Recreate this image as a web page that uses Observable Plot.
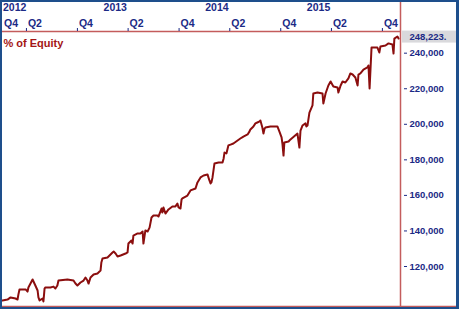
<!DOCTYPE html>
<html><head><meta charset="utf-8">
<script src="https://cdn.jsdelivr.net/npm/d3@7"></script>
<script src="https://cdn.jsdelivr.net/npm/@observablehq/plot@0.6"></script>
<style>
html,body{margin:0;padding:0;background:#fff;}
#chart{width:454px;height:305px;border-style:solid;border-color:#1e4f8c;border-width:2px 3px 2px 2px;background:#fff;overflow:hidden;}
#chart svg{display:block;}
</style></head><body><div id="chart"></div><script>
// ---- data ----
const baseDate = "2012-01-01";
const dayOffsets = [5,23,34,52,59,62,66,88,95,98,
113,123,131,134,138,149,152,156,159,177,
188,195,202,206,238,260,267,274,285,296,
303,310,314,321,332,346,357,360,364,382,
400,404,411,418,429,447,454,457,468,472,
475,490,500,508,511,518,526,533,540,547,
561,565,576,579,583,590,601,615,626,633,
637,644,648,651,669,680,698,705,716,727,
741,748,752,755,759,766,781,795,799,802,
809,816,824,834,849,859,870,885,892,895,
906,913,920,928,931,938,942,946,949,967,
992,999,1007,1010,1014,1017,1032,1039,1064,1071,
1075,1082,1093,1096,1100,1107,1118,1121,1136,1154,
1157,1165,1175,1183,1193,1208,1211,1219,1226,1236,
1247,1254,1262,1272,1280,1283,1290,1301,1315,1319,
1323,1330,1344,1351,1358,1362,1380,1391,1405,1409,
1412,1423,1427];
const equity = [100900,101400,102600,102000,101400,104200,107100,107100,105900,108200,
112700,109300,106500,102600,100900,102000,100300,107600,108200,108200,
108700,107600,109300,112100,112700,112100,110400,109300,111000,112100,
113800,112100,110400,113800,115500,116100,117700,122300,124500,125100,
127900,128400,127300,125600,126200,127300,127900,132900,134600,132900,
137400,138600,138600,139700,132900,140300,139700,141900,147600,148700,
148700,148100,152600,150400,153200,149800,152100,153800,153800,155400,
153200,152600,157700,158300,159900,162800,163900,167300,170100,171200,
171800,168400,166700,167300,170100,177900,178500,178500,180800,184100,
183600,188100,188600,189200,190900,192000,193100,194300,196000,197100,
198800,200500,201000,201600,202100,198200,194800,197600,198200,198800,
198800,196000,192600,189200,182400,189800,190300,191500,194800,186900,
196500,199300,200500,198800,199300,206600,210600,217300,217900,217300,
211700,217300,221800,224100,221300,220700,217900,221800,224100,223500,
225800,228600,228000,226300,221800,228000,228600,230800,232000,233100,
220100,243200,243200,243200,240400,243800,244300,245500,244900,239800,
248200,249400,248223];
const quarterDates = ["2011-10-01","2012-04-01","2012-10-01","2013-04-01","2013-10-01","2014-04-01","2014-10-01","2015-04-01","2015-10-01"];
const quarterLabels = ["Q4","Q2","Q4","Q2","Q4","Q2","Q4","Q2","Q4"];
const yearDates = ["2012-01-01","2013-01-01","2014-01-01","2015-01-01"];
const yearLabels = ["2012","2013","2014","2015"];
const yTicks = [120000,140000,160000,180000,200000,220000,240000];
const lastValue = 248223;
const yLabel = "% of Equity";

// ---- drawing ----
const parse = s => new Date(s + "T00:00:00Z");
const base = parse(baseDate);
const series = dayOffsets.map((d, i) => ({date: new Date(+base + d * 864e5), value: equity[i]}));
const xDomain = [parse("2012-01-06"), parse("2015-12-05")];
const yDomain = [97500, 252200];
const clampX = d => (d < xDomain[0] ? xDomain[0] : d);
const quarters = quarterDates.map((d, i) => ({date: parse(d), label: quarterLabels[i]}));
const years = yearDates.map((d, i) => ({date: parse(d), label: yearLabels[i]}));
const tickQuarters = quarters.filter(q => q.date >= xDomain[0]);

const navy = "#1b2a86", lineRed = "#8b0e0e", frameRed = "#c45c5c";
const W = 454, H = 305, mT = 29, mB = 1, mR = 56;

const plot = Plot.plot({
  width: W, height: H,
  marginLeft: 0, marginRight: mR, marginTop: mT, marginBottom: mB,
  style: {fontFamily: "'Liberation Sans', Arial, sans-serif", fontWeight: "bold", fontSize: "9.5px", background: "#fff", overflow: "visible"},
  x: {type: "utc", domain: xDomain, axis: null},
  y: {domain: yDomain, axis: null},
  marks: [
    Plot.rect([lastValue], {x1: () => xDomain[1], x2: () => xDomain[1], y1: d => d, y2: d => d,
      insetLeft: 2, insetRight: -mR, insetTop: -7.5, insetBottom: -4.5, fill: "#d9d9dc"}),
    Plot.ruleY([yDomain[1]], {stroke: frameRed, strokeWidth: 1.5}),
    Plot.ruleY([yDomain[0]], {stroke: frameRed, strokeWidth: 1.5, insetRight: -mR}),
    Plot.ruleX([xDomain[1]], {stroke: frameRed, strokeWidth: 1.5, insetTop: -mT}),
    Plot.ruleX(tickQuarters, {x: "date", stroke: navy, strokeWidth: 1, insetTop: -3, insetBottom: H - mB - mT}),
    Plot.line(series, {x: "date", y: "value", stroke: lineRed, strokeWidth: 2}),
    Plot.text(quarters, {x: d => clampX(d.date), text: "label", frameAnchor: "top", dy: -8, dx: 1.5,
      textAnchor: "start", lineAnchor: "middle", fill: navy, fontSize: 10.5}),
    Plot.text(years, {x: d => clampX(d.date), text: "label", frameAnchor: "top", dy: -23.5, dx: 0.5,
      textAnchor: "start", lineAnchor: "middle", fill: navy, fontSize: 10.5}),
    Plot.text([yLabel], {text: d => d, frameAnchor: "top-left", dx: 1, dy: 12, lineAnchor: "middle",
      textAnchor: "start", fill: "#a31515", fontSize: 11}),
    Plot.axisY({anchor: "right", ticks: yTicks, tickSize: 3, tickPadding: 3, dx: 3, label: null,
      tickFormat: d3.format(","), color: navy, fontSize: 9.5}),
    Plot.text([lastValue], {x: () => xDomain[1], y: d => d, text: d => d3.format(",")(d) + ".",
      textAnchor: "start", lineAnchor: "middle", dx: 9, dy: -1.6, fill: navy, fontSize: 9.5})
  ]
});
document.getElementById("chart").appendChild(plot);
</script></body></html>
